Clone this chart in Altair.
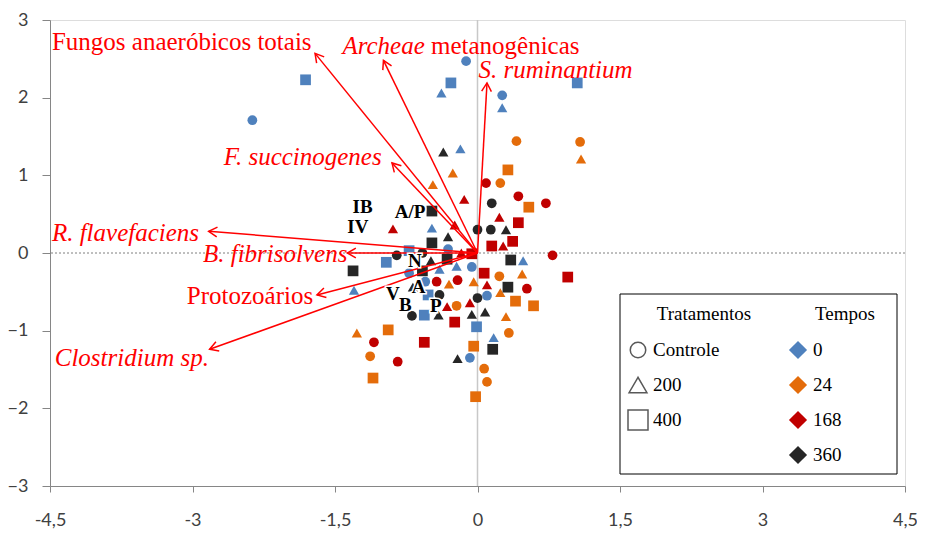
import math
import altair as alt
import pandas as pd

# ---------------- data ----------------
# Scores by sampling time; shape code: C = Controle, T = 200, S = 400
t0_x = [-2.37, -1.81, -0.12, -0.28, -0.38, 0.26, 0.26, 1.05, -0.18, -0.48, -0.31, -0.72, -0.96,
        -0.40, -0.22, -0.06, -0.72, 0.48, -1.30, -0.55, -0.52, 0.10, -0.56, -0.01, 0.17, -0.08]
t0_y = [1.71, 2.23, 2.47, 2.19, 2.06, 2.03, 1.87, 2.19, 1.34, 0.32, 0.05, 0.03, -0.12,
        -0.21, -0.17, -0.18, -0.26, -0.10, -0.48, -0.37, -0.54, -0.55, -0.80, -0.95, -1.09, -1.35]
t0_s = ["C", "S", "C", "S", "T", "C", "T", "S", "T", "T", "C", "S", "S",
        "T", "T", "C", "C", "T", "T", "C", "S", "C", "S", "S", "T", "C"]

t24_x = [0.41, 1.08, 1.09, -0.26, 0.32, -0.47, 0.24, 0.54, 0.23, 0.47, -0.30, -0.04, 0.24,
         0.40, 0.59, -0.22, 0.30, 0.33, -0.04, 0.07, 0.10, -0.02, -1.27, -0.94, -1.13, -1.10]
t24_y = [1.44, 1.43, 1.21, 1.03, 1.07, 0.88, 0.90, 0.59, -0.30, -0.27, -0.40, -0.37, -0.51,
         -0.62, -0.68, -0.68, -0.82, -1.03, -1.20, -1.49, -1.66, -1.85, -1.03, -0.99, -1.33, -1.61]
t24_s = ["C", "C", "T", "T", "S", "T", "C", "S", "C", "T", "T", "T", "T",
         "S", "S", "C", "T", "C", "S", "C", "C", "S", "T", "S", "C", "S"]

t168_x = [0.09, -0.14, 0.43, 0.72, 0.23, 0.43, -0.89, -0.24, 0.37, 0.15, 0.27, -0.17, -0.06,
          0.79, 0.95, 0.07, -0.43, -0.21, 0.10, 0.52, -0.32, -0.08, -0.24, -0.56, -1.09, -0.84]
t168_y = [0.90, 0.69, 0.73, 0.64, 0.46, 0.39, 0.31, 0.36, 0.15, 0.09, 0.09, 0.00, -0.01,
          -0.03, -0.31, -0.26, -0.37, -0.35, -0.41, -0.46, -0.69, -0.64, -0.89, -1.15, -1.15, -1.40]
t168_s = ["C", "T", "C", "C", "T", "S", "T", "T", "S", "S", "T", "T", "S",
          "C", "S", "S", "C", "C", "T", "C", "T", "T", "S", "S", "C", "C"]

t360_x = [-0.36, 0.15, -0.48, 0.00, 0.14, 0.30, -0.31, -0.48, -0.85, -0.58, -0.32, -0.49, -1.31,
          -0.58, 0.35, 0.32, -0.40, 0.00, -0.41, -0.06, 0.08, -0.69, 0.16, -0.21, -0.68]
t360_y = [1.30, 0.64, 0.54, 0.30, 0.30, 0.30, 0.21, 0.13, -0.03, 0.00, -0.08, -0.10, -0.23,
          -0.23, -0.09, -0.44, -0.54, -0.58, -0.80, -0.79, -0.76, -0.81, -1.24, -1.36, -0.44]
t360_s = ["T", "C", "S", "C", "C", "T", "T", "S", "C", "C", "S", "T", "S",
          "S", "S", "S", "C", "C", "T", "T", "T", "C", "S", "T", "T"]

trat_names = {"C": "Controle", "T": "200", "S": "400"}
trat_order = ["Controle", "200", "400"]
tempo_order = ["0", "24", "168", "360"]
tempo_colors = ["#4F81BD", "#E46C0A", "#C00000", "#262626"]

# Loadings (arrow tips)
var_names = ["Fungos anaeróbicos totais", "Archeae metanogênicas", "S. ruminantium",
             "F. succinogenes", "R. flavefaciens", "B. fibrisolvens", "Protozoários",
             "Clostridium sp."]
var_x = [-1.71, -0.99, 0.10, -0.90, -2.83, -1.37, -1.69, -2.82]
var_y = [2.57, 2.48, 2.19, 1.16, 0.28, 0.00, -0.54, -1.24]

# Arrow labels (position of the text, its style)
lab_text = ["Fungos anaeróbicos totais", "Archeae", "metanogênicas", "S. ruminantium",
            "F. succinogenes", "R. flavefaciens", "B. fibrisolvens", "Protozoários",
            "Clostridium sp."]
lab_x = [-4.48, -0.555, -0.49, 0.01, -2.67, -4.48, -2.89, -3.06, -4.45]
lab_y = [2.72, 2.66, 2.66, 2.36, 1.24, 0.26, -0.01, -0.55, -1.35]
lab_italic = [False, True, False, True, True, True, True, False, True]
lab_align = ["left", "right", "left", "left", "left", "left", "left", "left", "left"]

# Group labels (bold)
grp_text = ["IB", "IV", "A/P", "N", "A", "V", "B", "P"]
grp_x = [-1.21, -1.26, -0.71, -0.66, -0.62, -0.89, -0.76, -0.44]
grp_y = [0.59, 0.34, 0.53, -0.10, -0.44, -0.53, -0.67, -0.68]

# ---------------- tables ----------------
rows = []
for tempo, xs_, ys_, ss_ in [("0", t0_x, t0_y, t0_s), ("24", t24_x, t24_y, t24_s),
                             ("168", t168_x, t168_y, t168_s), ("360", t360_x, t360_y, t360_s)]:
    for a, b, s in zip(xs_, ys_, ss_):
        rows.append({"x": a, "y": b, "trat": trat_names[s], "tempo": tempo})
pts = pd.DataFrame(rows)

W, H = 855, 466
PXX = W / 9.0
PXY = H / 6.0
arr = pd.DataFrame({"name": var_names, "x": var_x, "y": var_y})
arr["x0"] = 0.0
arr["y0"] = 0.0
arr["ang"] = [(math.degrees(math.atan2(a * PXX, b * PXY)) + 360) % 360 for a, b in zip(var_x, var_y)]

labs = pd.DataFrame({"t": lab_text, "x": lab_x, "y": lab_y, "it": lab_italic, "al": lab_align})
grp = pd.DataFrame({"t": grp_text, "x": grp_x, "y": grp_y})

# ---------------- scales / axes ----------------
xscale = alt.Scale(domain=[-4.5, 4.5], nice=False, zero=False)
yscale = alt.Scale(domain=[-3, 3], nice=False, zero=False)
xaxis = alt.Axis(values=[-4.5, -3, -1.5, 0, 1.5, 3, 4.5], labelExpr="replace(''+datum.value, '.', ',')",
                 grid=False, domainColor="#868686", tickColor="#868686", tickSize=6,
                 labelPadding=19, labelFont="Lato", labelFontSize=18, labelColor="#404040",
                 title=None, labelFlush=False, labelOverlap=False, orient="bottom")
yaxis = alt.Axis(values=[-3, -2, -1, 0, 1, 2, 3], grid=False, domainColor="#868686",
                 tickColor="#868686", tickSize=8, labelPadding=14, labelFont="Lato",
                 labelFontSize=18, labelColor="#404040", title=None, orient="left",
                 labelFlush=False, labelOverlap=False)


def X(f):
    return alt.X(f, type="quantitative", scale=xscale, axis=xaxis)


def Y(f):
    return alt.Y(f, type="quantitative", scale=yscale, axis=yaxis)


zero_df = pd.DataFrame({"v": [0.0]})
vline = alt.Chart(zero_df).mark_rule(color="#C8C8C8", strokeWidth=1.5).encode(x=X("v"))
hline = alt.Chart(zero_df).mark_rule(color="#7F7F7F", strokeWidth=1, strokeDash=[2, 2]).encode(y=Y("v"))

shape_scale = alt.Scale(domain=trat_order, range=["circle", "triangle-up", "square"])
color_scale = alt.Scale(domain=tempo_order, range=tempo_colors)

points = alt.Chart(pts).mark_point(filled=True, opacity=1, size=95).encode(
    x=X("x"), y=Y("y"),
    shape=alt.Shape("trat:N", scale=shape_scale, legend=None),
    color=alt.Color("tempo:N", scale=color_scale, legend=None),
    size=alt.Size("trat:N", scale=alt.Scale(domain=trat_order, range=[95, 115, 85]), legend=None),
)

lines = alt.Chart(arr).mark_rule(color="#FF0000", strokeWidth=1.5).encode(
    x=X("x0"), y=Y("y0"), x2="x", y2="y")
heads = alt.Chart(arr).mark_point(shape="M -0.5 0.87 L 0 0 L 0.5 0.87", filled=False,
                                  color="#FF0000", strokeWidth=1.5, opacity=1, size=380).encode(
    x=X("x"), y=Y("y"), angle=alt.Angle("ang:Q", scale=None))

serif = "Liberation Serif"


def lab_layer(italic, align):
    sub = labs[(labs.it == italic) & (labs.al == align)]
    return alt.Chart(sub).mark_text(font=serif, fontSize=25, color="#FF0000", align=align,
                                    baseline="middle",
                                    fontStyle="italic" if italic else "normal").encode(
        x=X("x"), y=Y("y"), text="t:N")


lab_layers = [lab_layer(True, "left"), lab_layer(True, "right"), lab_layer(False, "left")]

grp_halo = alt.Chart(grp).mark_text(font=serif, fontSize=19, fontWeight="bold", color="white",
                                    stroke="white", strokeWidth=3, baseline="middle").encode(
    x=X("x"), y=Y("y"), text="t:N")
grp_text_l = alt.Chart(grp).mark_text(font=serif, fontSize=19, fontWeight="bold", color="black",
                                      baseline="middle").encode(x=X("x"), y=Y("y"), text="t:N")

# ---------------- manual legend box ----------------
box = alt.Chart(zero_df).mark_rect(fill="white", stroke="black", strokeWidth=1).encode(
    x=alt.value(570), x2=alt.value(847), y=alt.value(274), y2=alt.value(454))

leg_titles = pd.DataFrame({"t": ["Tratamentos", "Tempos"], "px": [654, 795], "py": [294, 294]})
leg_title_l = alt.Chart(leg_titles).mark_text(font=serif, fontSize=19, color="black",
                                              align="center", baseline="middle").encode(
    x=alt.X("px:Q", scale=None, axis=None), y=alt.Y("py:Q", scale=None, axis=None), text="t:N")

trat_leg = pd.DataFrame({"t": trat_order, "px": [588] * 3, "py": [330 + 35 * i for i in range(3)]})
trat_sym = alt.Chart(trat_leg).mark_point(filled=False, color="#595959", strokeWidth=1.5, opacity=1).encode(
    x=alt.X("px:Q", scale=None, axis=None), y=alt.Y("py:Q", scale=None, axis=None),
    shape=alt.Shape("t:N", scale=shape_scale, legend=None),
    size=alt.Size("t:N", scale=alt.Scale(domain=trat_order, range=[240, 400, 330]), legend=None))
trat_txt = alt.Chart(trat_leg).mark_text(font=serif, fontSize=19, color="black", align="left",
                                         baseline="middle", dx=15).encode(
    x=alt.X("px:Q", scale=None, axis=None), y=alt.Y("py:Q", scale=None, axis=None), text="t:N")

tempo_leg = pd.DataFrame({"t": tempo_order, "px": [748] * 4, "py": [330 + 35 * i for i in range(4)]})
tempo_sym = alt.Chart(tempo_leg).mark_point(filled=True, shape="diamond", size=330, opacity=1).encode(
    x=alt.X("px:Q", scale=None, axis=None), y=alt.Y("py:Q", scale=None, axis=None),
    color=alt.Color("t:N", scale=color_scale, legend=None))
tempo_txt = alt.Chart(tempo_leg).mark_text(font=serif, fontSize=19, color="black", align="left",
                                           baseline="middle", dx=15).encode(
    x=alt.X("px:Q", scale=None, axis=None), y=alt.Y("py:Q", scale=None, axis=None), text="t:N")

chart = alt.layer(
    vline, hline, points, lines, heads, *lab_layers, grp_halo, grp_text_l,
    box, leg_title_l, trat_sym, trat_txt, tempo_sym, tempo_txt
).resolve_scale(color="independent", shape="independent", size="independent").properties(
    width=W, height=H,
    autosize=alt.AutoSizeParams(type="none"),
    padding={"left": 42, "top": 12, "right": 12, "bottom": 45},
).configure_view(stroke=None).configure(background="white")

chart.save("out.html", embed_options={"renderer": "svg", "actions": False})
